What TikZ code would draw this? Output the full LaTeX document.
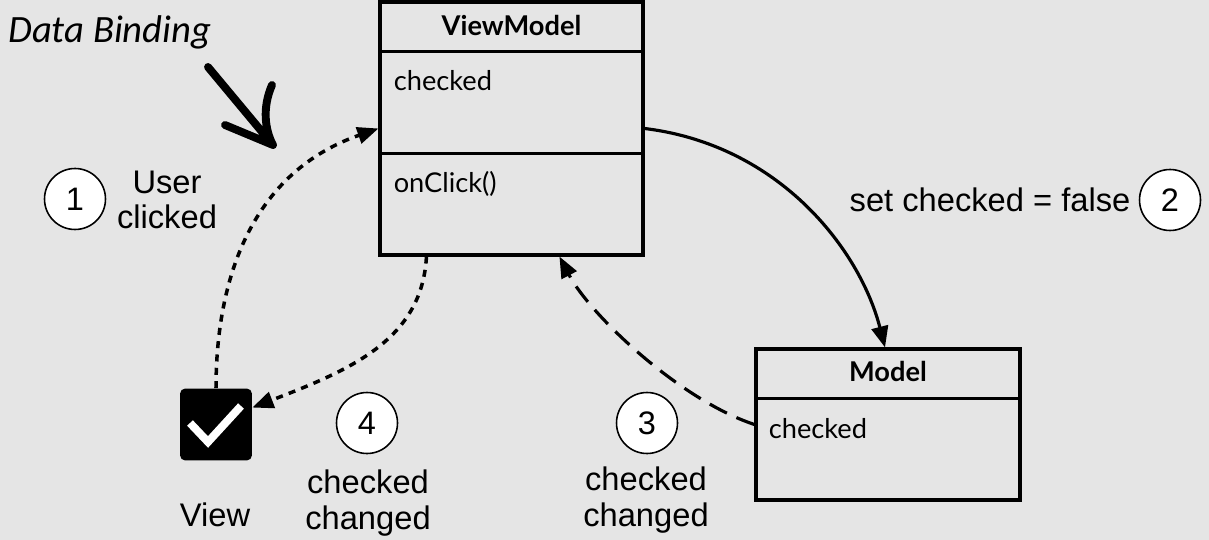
\documentclass[tikz,border=0pt]{standalone}
\usepackage{fontspec}
\setmainfont{Liberation Sans}
\newfontfamily\boxfont{Lato}
\newfontfamily\handfont{Carlito}
\usetikzlibrary{arrows.meta,calc}
\definecolor{canvasgray}{RGB}{229,229,229}

\begin{document}
\begin{tikzpicture}[x=0.02cm, y=-0.02cm,
    classbox/.style={rectangle, draw=black, line width=1.8pt, minimum width=5.26cm, inner sep=0},
    divider/.style={line width=1.5pt},
    member/.style={anchor=west, inner sep=0, font=\boxfont\fontsize{15.5}{18}\selectfont},
    title/.style={inner sep=0, font=\boxfont\bfseries\fontsize{15.5}{18}\selectfont},
    numc/.style={circle, draw=black, fill=white, line width=0.9pt, minimum size=1.22cm, inner sep=0, font=\fontsize{18.5}{20}\selectfont},
    note/.style={align=center, inner sep=0, font=\fontsize{18.6}{20}\selectfont},
    flow/.style={line width=1.8pt, -{Triangle[length=12pt, width=9.5pt]}},
    dotflow/.style={flow, line width=2pt, dash pattern=on 4pt off 3.6pt},
    dashflow/.style={flow, dash pattern=on 11pt off 6pt}
]

% Canvas
\useasboundingbox (0,0) rectangle (1209,540);
\fill[canvasgray] (0,0) rectangle (1209,540);

% ViewModel class
\node[classbox, minimum height=5.06cm] (vm) at (511.5,128.5) {};
\draw[divider] ($(vm.north west)+(0,51)$) -- ($(vm.north east)+(0,51)$);
\draw[divider] ($(vm.north west)+(0,153)$) -- ($(vm.north east)+(0,153)$);
\node[title] (vmtitle) at ($(vm.north)+(0,25)$) {ViewModel};
\node[member] (vmchecked) at ($(vm.north west)+(15,80)$) {checked};
\node[member] (vmclick) at ($(vm.north west)+(15,183)$) {onClick()};

% Model class
\node[classbox, minimum width=5.28cm, minimum height=3.02cm] (model) at (888,424.5) {};
\draw[divider] ($(model.north west)+(0,51)$) -- ($(model.north east)+(0,51)$);
\node[title] (mtitle) at ($(model.north)+(0,24)$) {Model};
\node[member] (mchecked) at ($(model.north west)+(14,81)$) {checked};

% View (checkbox)
\node[rectangle, fill=black, rounded corners=3pt, minimum size=1.44cm] (chk) at (216,424.5) {};
\draw[white, line width=4.5pt] ($(chk.center)+(-26,-1.5)$) -- ++(18,19) -- ++(33,-36);
\node[note] (view) at (215,515) {View};

% Steps
\node[numc] (n1) at (75,199) {1};
\node[note] (t1) at (167,200) {User\\clicked};
\node[numc] (n2) at (1170,200) {2};
\node[note] (t2) at (990,200) {set checked = false};
\node[numc] (n3) at (647,423) {3};
\node[note] (t3) at (646,500) {checked\\changed};
\node[numc] (n4) at (367,423) {4};
\node[note] (t4) at (368,503) {checked\\changed};

% Connectors
\draw[dotflow] (chk.north) .. controls (216,290) and (245,175) .. (vm.west);
\draw[dotflow] ($(vm.south west)+(48,0)$) .. controls (422,340) and (350,370) .. (chk.25);
\draw[flow] (vm.east) .. controls (780,145) and (860,250) .. ($(model.north)+(-3,0)$);
\draw[dashflow] (model.west) .. controls (680,400) and (590,315) .. ($(vm.south west)+(181,0)$);

% Data Binding note
\node[font=\handfont\itshape\fontsize{22}{25}\selectfont, anchor=base west, inner sep=0] (db) at (8,43) {Data Binding};
\draw[line width=4.5pt, line cap=round, line join=round] (208,67) -- (273,145) (225,125) -- (273,145) .. controls (265,130) and (262,108) .. (272,85);

\end{tikzpicture}
\end{document}
